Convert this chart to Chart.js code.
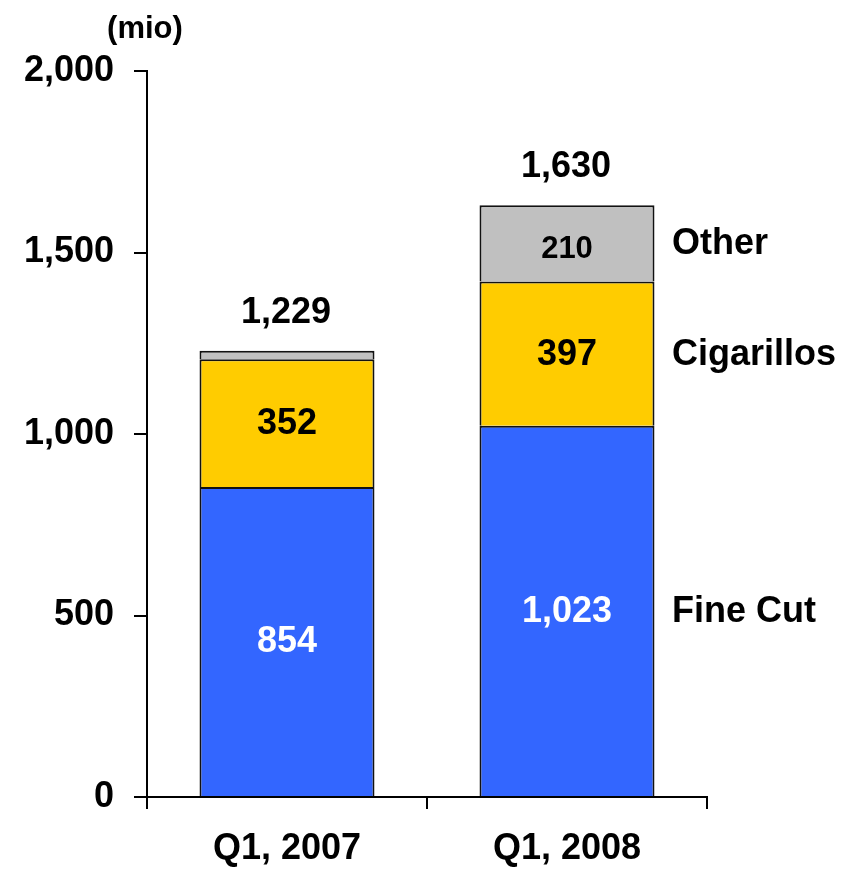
<!DOCTYPE html>
<html>
<head>
<meta charset="utf-8">
<script src="https://cdn.jsdelivr.net/npm/chart.js@4/dist/chart.umd.min.js"></script>
<style>
  html, body { margin: 0; padding: 0; background: #fff; }
  #wrap { width: 852px; height: 871px; position: relative; }
</style>
</head>
<body>
<div id="wrap"><canvas id="chart" width="852" height="871"></canvas></div>
<script>
// ─── DONNÉES ──────────────────────────────────────────────────────────────
const categories = ['Q1, 2007', 'Q1, 2008'];
const fineCut    = [854, 1023];
const cigarillos = [352, 397];
const other      = [23, 210];
const totals     = [1229, 1630];
const yTicks     = [0, 500, 1000, 1500, 2000];
const seriesNames = ['Fine Cut', 'Cigarillos', 'Other'];

const FONT = "'Liberation Sans', Arial, sans-serif";
const fmt = v => v.toLocaleString('en-US');

// étiquettes dans les barres, totaux au-dessus, noms de séries à droite
const labelsPlugin = {
    id: 'labels',
    afterDatasetsDraw(chart) {
        const c = chart.ctx;
        c.save();
        c.textAlign = 'center';
        c.textBaseline = 'middle';
        chart.data.datasets.forEach((ds, di) => {
            const meta = chart.getDatasetMeta(di);
            meta.data.forEach((bar, i) => {
                const v = ds.data[i];
                if (v < 100) return;
                const y = (bar.y + bar.base) / 2;
                c.fillStyle = di === 0 ? '#ffffff' : '#000000';
                c.font = `bold ${di === 2 ? 31 : 36}px ${FONT}`;
                c.fillText(fmt(v), bar.x, y + (di === 2 ? 6 : 1));
            });
        });
        // totaux
        const top = chart.getDatasetMeta(2);
        c.fillStyle = '#000';
        c.font = `bold 36px ${FONT}`;
        top.data.forEach((bar, i) => {
            c.fillText(fmt(totals[i]), bar.x - 1, bar.y - 38);
        });
        // noms des séries
        c.textAlign = 'left';
        const last = categories.length - 1;
        chart.data.datasets.forEach((ds, di) => {
            const bar = chart.getDatasetMeta(di).data[last];
            const y = (bar.y + bar.base) / 2;
            c.fillText(seriesNames[di], 672, y + 1);
        });
        // unité
        c.textAlign = 'center';
        c.font = `bold 31px ${FONT}`;
        c.fillText('(mio)', 145, 29);
        c.restore();
    }
};

const ctx = document.getElementById('chart').getContext('2d');
new Chart(ctx, {
    type: 'bar',
    data: {
        labels: categories,
        datasets: [
            { label: seriesNames[0], data: fineCut,    backgroundColor: '#3366ff' },
            { label: seriesNames[1], data: cigarillos, backgroundColor: '#ffcc00' },
            { label: seriesNames[2], data: other,      backgroundColor: '#c0c0c0' }
        ].map(d => ({
            ...d,
            borderColor: '#111',
            borderWidth: { top: 2, right: 2, bottom: 0, left: 2 },
            borderSkipped: false,
            inflateAmount: 0,
            barPercentage: 0.625,
            categoryPercentage: 1
        }))
    },
    options: {
        responsive: false,
        animation: false,
        layout: { padding: { top: 71, right: 145, left: 0, bottom: 0 } },
        plugins: { legend: { display: false }, tooltip: { enabled: false } },
        scales: {
            x: {
                stacked: true,
                afterFit: s => { s.height = 74; },
                grid: { offset: true, drawOnChartArea: false, drawTicks: true, tickLength: 12, color: '#000', lineWidth: 2 },
                border: { display: true, color: '#000', width: 2 },
                ticks: { color: '#000', padding: 18, font: { family: FONT, size: 36, weight: 'bold' } }
            },
            y: {
                stacked: true,
                min: 0,
                max: 2000,
                afterFit: s => { s.width = 147; },
                afterBuildTicks: s => { s.ticks = yTicks.map(v => ({ value: v })); },
                grid: { drawOnChartArea: false, drawTicks: true, tickLength: 13, color: '#000', lineWidth: 2 },
                border: { display: true, color: '#000', width: 2 },
                ticks: { color: '#000', padding: 20, callback: v => fmt(v), font: { family: FONT, size: 36, weight: 'bold' } }
            }
        }
    },
    plugins: [labelsPlugin]
});
</script>
</body>
</html>
